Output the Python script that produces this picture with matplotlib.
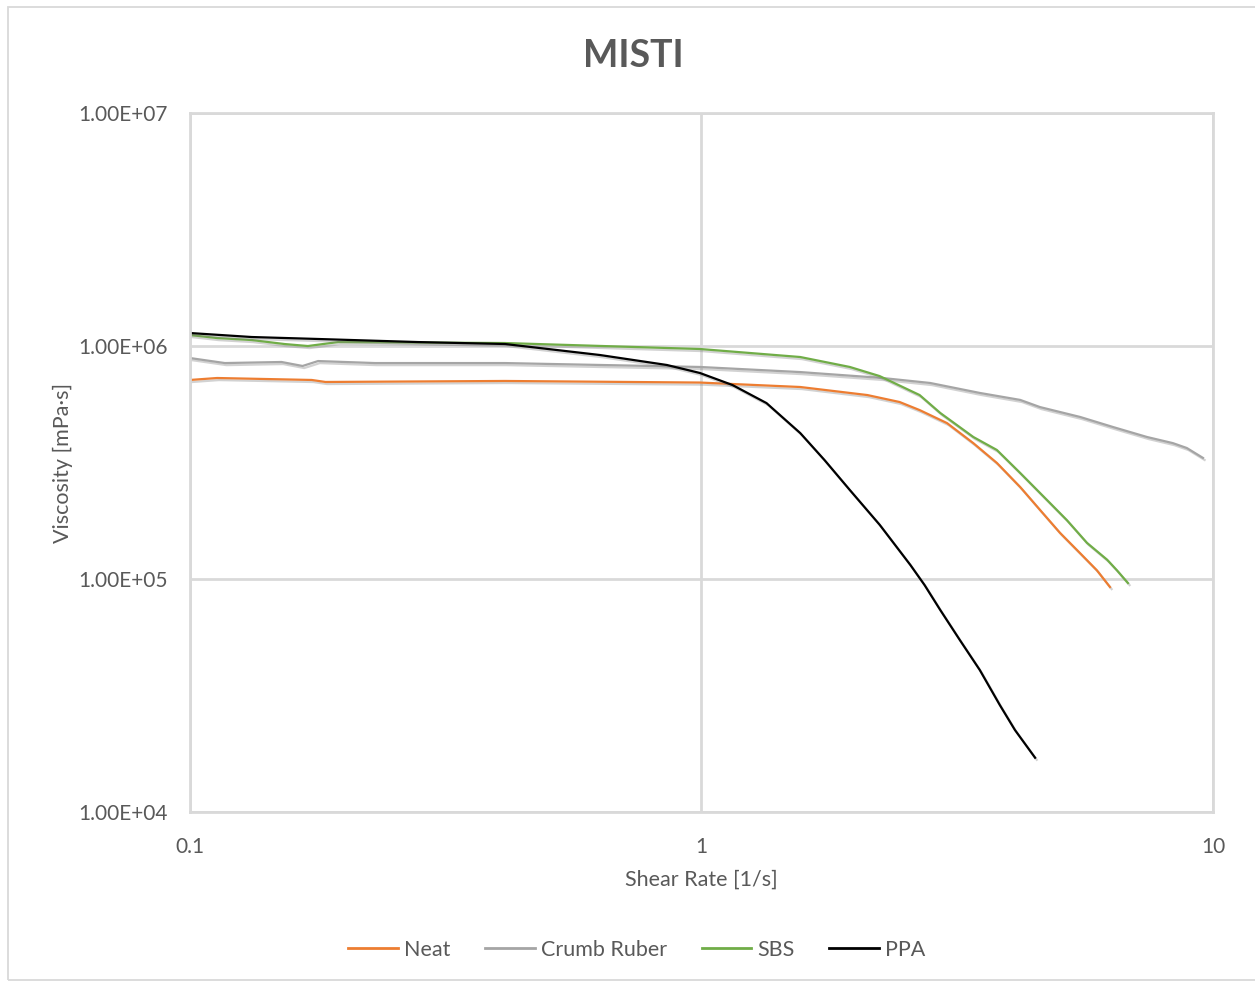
import matplotlib
matplotlib.use('Agg')
import matplotlib.pyplot as plt
import matplotlib.patheffects as pe
from matplotlib.patches import Rectangle

# ============================================
# DADOS
# ============================================

neat_x = [0.1, 0.113, 0.173, 0.184, 0.413, 0.993, 1.56, 2.11, 2.44, 2.67,
          3.02, 3.40, 3.78, 4.20, 4.59, 5.02, 5.50, 5.93, 6.29]
neat_y = [7.15e5, 7.29e5, 7.15e5, 7.01e5, 7.08e5, 6.97e5, 6.67e5, 6.16e5, 5.75e5, 5.31e5,
          4.67e5, 3.83e5, 3.15e5, 2.48e5, 1.98e5, 1.58e5, 1.29e5, 1.09e5, 9.24e4]

crumb_x = [0.1, 0.117, 0.151, 0.166, 0.178, 0.230, 0.413, 0.993, 1.56, 2.26,
           2.80, 3.50, 4.20, 4.59, 5.50, 6.38, 7.43, 8.35, 8.89, 9.56]
crumb_y = [8.88e5, 8.45e5, 8.54e5, 8.21e5, 8.62e5, 8.45e5, 8.45e5, 8.13e5, 7.73e5, 7.29e5,
           6.94e5, 6.29e5, 5.87e5, 5.47e5, 4.96e5, 4.49e5, 4.07e5, 3.83e5, 3.65e5, 3.31e5]

sbs_x = [0.1, 0.113, 0.132, 0.153, 0.170, 0.195, 0.413, 0.993, 1.56, 1.95, 2.23,
         2.67, 2.93, 3.40, 3.78, 4.20, 4.74, 5.18, 5.67, 6.21, 6.49, 6.82]
sbs_y = [1.115e6, 1.082e6, 1.061e6, 1.020e6, 1.00e6, 1.04e6, 1.030e6, 9.71e5, 8.97e5, 8.13e5, 7.43e5,
         6.16e5, 5.16e5, 4.07e5, 3.58e5, 2.85e5, 2.18e5, 1.79e5, 1.43e5, 1.21e5, 1.09e5, 9.61e4]

ppa_x = [0.1, 0.132, 0.178, 0.279, 0.413, 0.633, 0.856, 0.993, 1.15, 1.34, 1.56,
         1.74, 1.95, 2.23, 2.56, 2.73, 2.93, 3.20, 3.50, 3.83, 4.10, 4.49]
ppa_y = [1.137e6, 1.093e6, 1.072e6, 1.040e6, 1.020e6, 9.15e5, 8.29e5, 7.66e5, 6.80e5, 5.69e5, 4.23e5,
         3.24e5, 2.41e5, 1.71e5, 1.15e5, 9.42e4, 7.36e4, 5.47e4, 4.07e4, 2.88e4, 2.25e4, 1.71e4]

series = [
    ('Neat', neat_x, neat_y, '#ED7D31'),
    ('Crumb Ruber', crumb_x, crumb_y, '#A5A5A5'),
    ('SBS', sbs_x, sbs_y, '#70AD47'),
    ('PPA', ppa_x, ppa_y, '#000000'),
]

y_ticks = [1e4, 1e5, 1e6, 1e7]
y_labels = ['1.00E+04', '1.00E+05', '1.00E+06', '1.00E+07']
x_ticks = [0.1, 1, 10]
x_labels = ['0.1', '1', '10']

# ============================================
# GRAFICO
# ============================================

plt.rcParams['font.family'] = ['Lato', 'DejaVu Sans']
texto = '#595959'
grade = '#D9D9D9'

fig = plt.figure(figsize=(12.55, 9.82), dpi=100)
ax = fig.add_axes([0.1514, 0.1731, 0.8151, 0.7118])

# borda externa do grafico
fig.patches.append(Rectangle((8 / 1255, 1 - 980 / 982), 1.0, 973 / 982,
                             transform=fig.transFigure, fill=False,
                             edgecolor=grade, linewidth=1.3))

sombra = [pe.SimpleLineShadow(offset=(1.2, -1.5), shadow_color='#808080', alpha=0.35),
          pe.Normal()]

for nome, xs, ys, cor in series:
    ax.plot(xs, ys, color=cor, linewidth=1.6, label=nome, path_effects=sombra)

ax.set_xscale('log')
ax.set_yscale('log')
ax.set_xlim(0.1, 10)
ax.set_ylim(1e4, 1e7)

ax.set_xticks(x_ticks)
ax.set_xticklabels(x_labels)
ax.set_yticks(y_ticks)
ax.set_yticklabels(y_labels)
ax.minorticks_off()
ax.tick_params(axis='x', length=0, labelsize=15, labelcolor=texto, pad=18)
ax.tick_params(axis='y', length=0, labelsize=15, labelcolor=texto, pad=16)

ax.grid(True, color=grade, linewidth=2)
ax.set_axisbelow(True)
for s in ax.spines.values():
    s.set_color(grade)
    s.set_linewidth(2)

fig.text(633 / 1255, 1 - 56 / 982, 'MISTI', fontsize=27, fontweight='bold',
         color=texto, ha='center', va='center')
ax.set_xlabel('Shear Rate [1/s]', fontsize=15.5, color=texto, labelpad=9)
ax.set_ylabel('Viscosity [mPa·s]', fontsize=15.5, color=texto, labelpad=4)

leg = fig.legend(loc='center', bbox_to_anchor=(637 / 1255, 1 - 950 / 982), ncol=4,
                 frameon=False, fontsize=15.5, handlelength=2.3, columnspacing=1.6,
                 handletextpad=0.3)
for t in leg.get_texts():
    t.set_color(texto)
for h in leg.get_lines():
    h.set_path_effects([])
    h.set_linewidth(2)

plt.savefig('out.png', dpi=100)
print("Grafico salvo: out.png")
